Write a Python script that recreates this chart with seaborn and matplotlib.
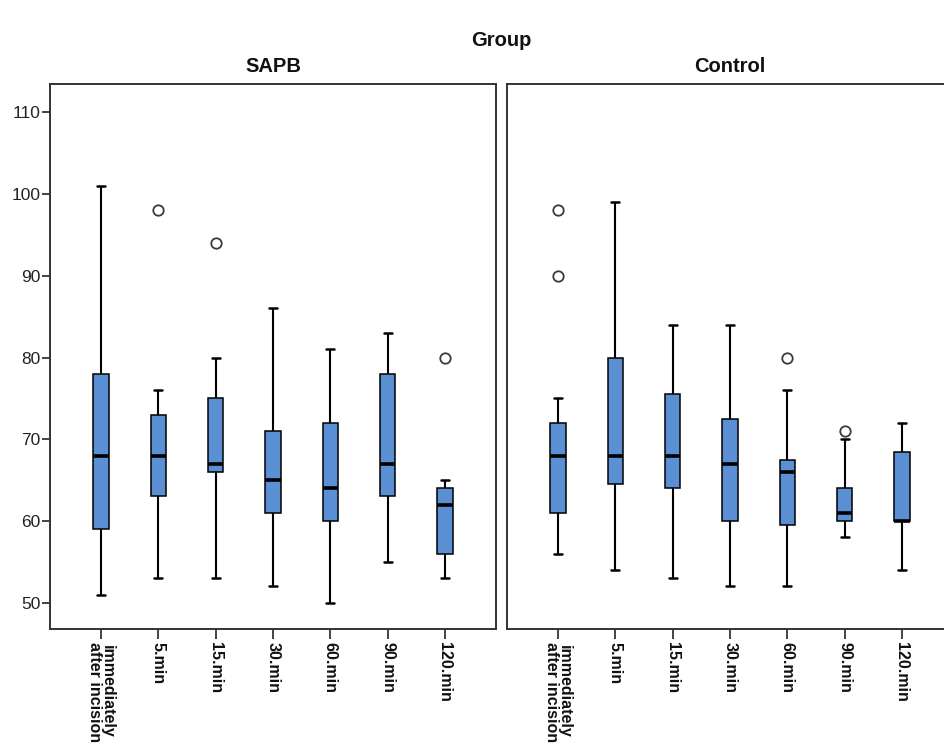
import matplotlib
matplotlib.use("Agg")
import matplotlib.pyplot as plt
import seaborn as sns
import pandas as pd
import numpy as np

# categories on the x axis of each panel
times = ["immediately\nafter incision", "5.min", "15.min", "30.min",
         "60.min", "90.min", "120.min"]
groups = ["SAPB", "Control"]

# box summaries: whisker ends, quartiles, median, outliers
sapb_low = [51, 53, 53, 52, 50, 55, 53]
sapb_q1 = [59, 63, 66, 61, 60, 63, 56]
sapb_med = [68, 68, 67, 65, 64, 67, 62]
sapb_q3 = [78, 73, 75, 71, 72, 78, 64]
sapb_high = [101, 76, 80, 86, 81, 83, 65]
sapb_out = [[], [98], [94], [], [], [], [80]]

ctrl_low = [56, 54, 53, 52, 52, 58, 54]
ctrl_q1 = [61, 64.5, 64, 60, 59.5, 60, 60]
ctrl_med = [68, 68, 68, 67, 66, 61, 60]
ctrl_q3 = [72, 80, 75.5, 72.5, 67.5, 64, 68.5]
ctrl_high = [75, 99, 84, 84, 76, 70, 72]
ctrl_out = [[98, 90], [], [], [], [80], [71], []]

y_ticks = [50, 60, 70, 80, 90, 100, 110]

BOX_COLOR = "#5b8fd3"
TITLE_FONT = ["Liberation Sans Narrow", "Liberation Sans", "DejaVu Sans"]


def summary_rows(group, low, q1, med, q3, high, out):
    # repeat the read values so the quartiles come out exactly as drawn
    rows = []
    for i, t in enumerate(times):
        vals = [low[i]] + [q1[i]] * 20 + [med[i]] * 20 + [q3[i]] * 20 + [high[i]] + list(out[i])
        rows += [(group, t, v) for v in vals]
    return rows


df = pd.DataFrame(
    summary_rows("SAPB", sapb_low, sapb_q1, sapb_med, sapb_q3, sapb_high, sapb_out)
    + summary_rows("Control", ctrl_low, ctrl_q1, ctrl_med, ctrl_q3, ctrl_high, ctrl_out),
    columns=["group", "time", "value"],
)

sns.set_theme(style="white")
plt.rcParams["font.family"] = ["Liberation Sans", "DejaVu Sans"]

fig = plt.figure(figsize=(9.44, 7.48), dpi=100)
W, H = 944.0, 748.0
ax_bottom = 1 - 629.3 / H
ax_height = (629.3 - 84.3) / H
panel_left = [50, 507]

for k, g in enumerate(groups):
    ax = fig.add_axes([panel_left[k] / W, ax_bottom, 446 / W, ax_height])
    sns.boxplot(
        data=df[df["group"] == g], x="time", y="value", order=times, ax=ax,
        color=BOX_COLOR, saturation=1, width=0.27, whis=1.5,
        linecolor="black", linewidth=1.1,
        whiskerprops={"linewidth": 1.5},
        capprops={"linewidth": 1.8},
        medianprops={"linewidth": 2.6, "color": "black"},
        flierprops={"marker": "o", "markerfacecolor": "white",
                    "markeredgecolor": "#3a3a3a", "markersize": 7.5,
                    "markeredgewidth": 1.3},
    )
    ax.set_xlim(-0.89, 6.89)
    ax.set_ylim(46.75, 113.43)
    ax.set_xlabel("")
    ax.set_ylabel("")
    ax.set_yticks(y_ticks)
    ax.set_xticks(range(len(times)))
    ax.set_xticklabels(times, rotation=-90, fontweight="bold", fontsize=11.5,
                       ha="center", va="top", linespacing=0.8, color="#111111")
    for spine in ax.spines.values():
        spine.set_visible(True)
        spine.set_color("#333333")
        spine.set_linewidth(1.4)
    ax.tick_params(axis="x", bottom=True, direction="out", length=7, width=1.2,
                   color="#222222", pad=2)
    if k == 0:
        ax.tick_params(axis="y", left=True, direction="out", length=6, width=1.2,
                       color="#222222", labelsize=12.5, pad=1, labelcolor="#222222")
    else:
        ax.tick_params(axis="y", left=False, labelleft=False)
    fig.text((panel_left[k] + 223) / W, 1 - 67 / H, g, ha="center", va="center",
             fontsize=14.5, fontweight="bold", family=TITLE_FONT, color="#111111")

fig.text(501 / W, 1 - 41 / H, "Group", ha="center", va="center",
         fontsize=14.5, fontweight="bold", family=TITLE_FONT, color="#111111")

fig.savefig("out.png", dpi=100)
